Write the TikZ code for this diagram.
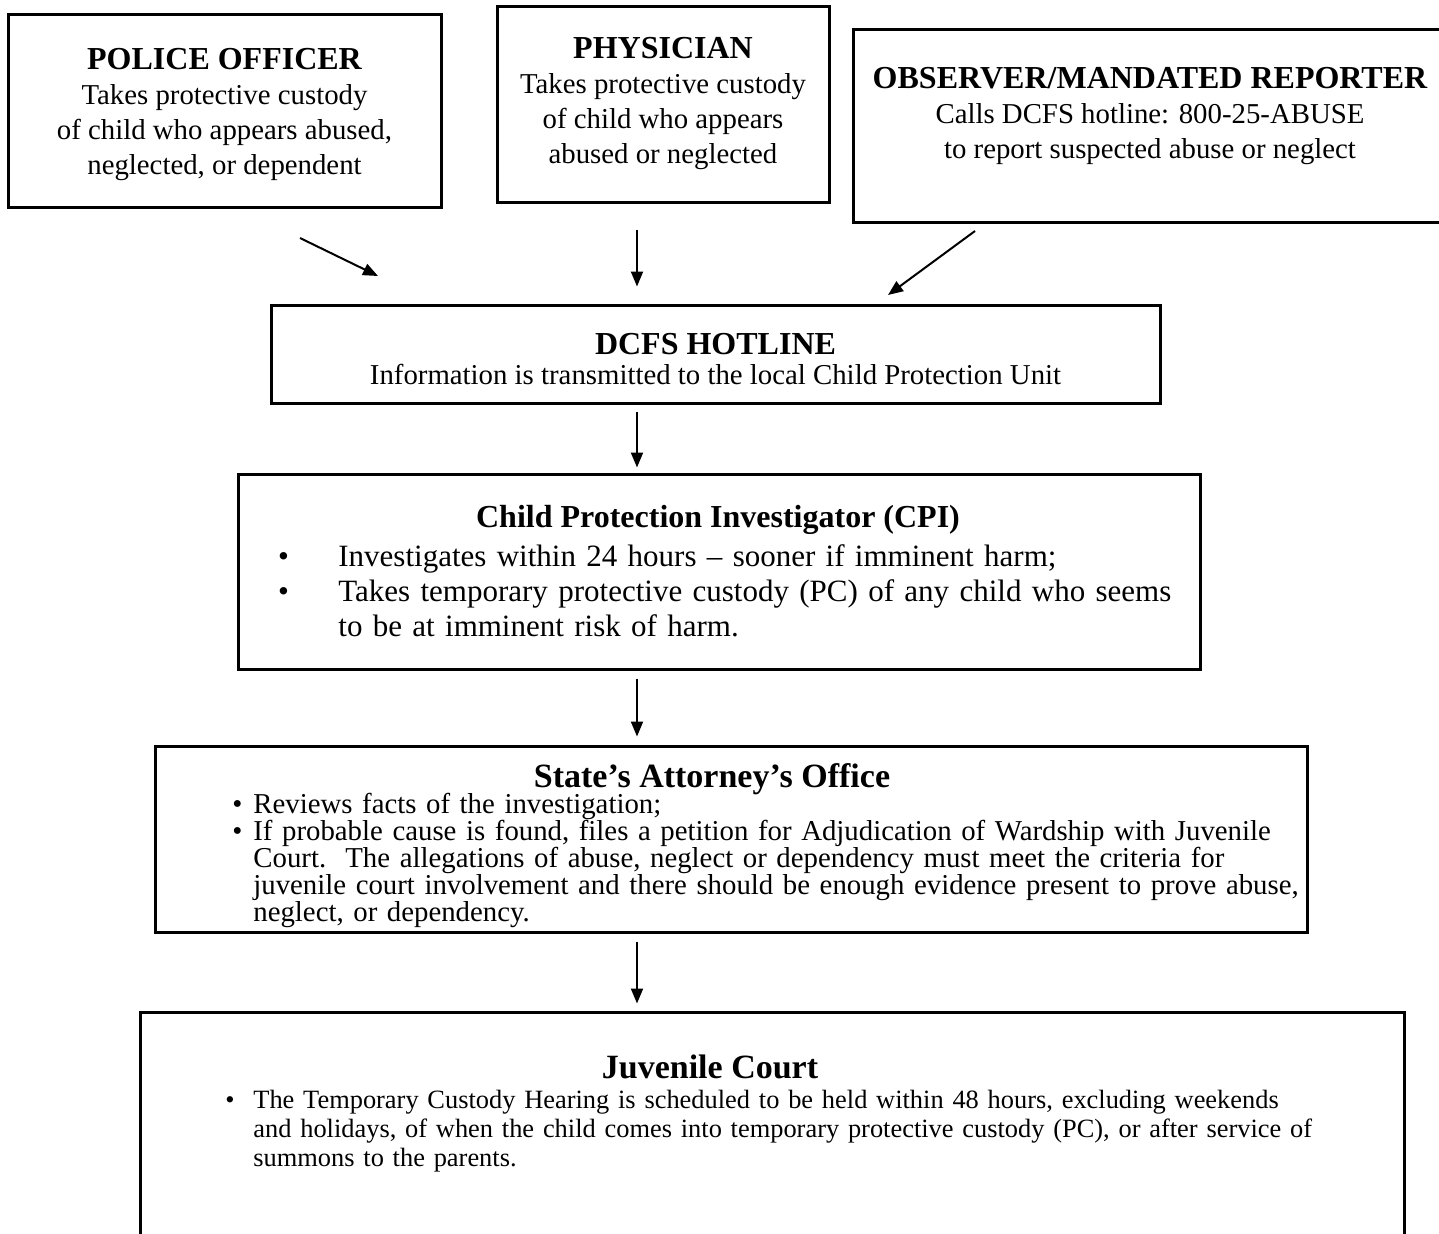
\documentclass[tikz,border=0pt]{standalone}
\usepackage{fontspec}
\setmainfont{Liberation Serif}
\usetikzlibrary{arrows.meta,positioning}

\newcommand{\bodyfont}{\fontsize{14.4}{17.5}\selectfont}
\newcommand{\titlefont}{\bfseries\fontsize{16}{17.5}\selectfont}
\newcommand{\bitem}[2]{\par\hangindent=#1\hangafter=1\noindent\makebox[#1][l]{\textbullet}#2\par}
\newcommand{\nl}{\hfil\break}

\tikzset{
  bigbox/.style={draw, rectangle, line width=1.5pt, inner sep=0pt},
  head/.style={inner sep=0pt, font=\titlefont},
  body/.style={inner sep=0pt, align=left},
  arr/.style={-{Triangle[length=7.5pt,width=6pt]}, line width=1pt},
}

\begin{document}
\begin{tikzpicture}[x=1pt, y=-1pt]
\useasboundingbox (0,0) rectangle (719.5,616.5);
\clip (0,0) rectangle (719.5,616.5);

% Reporters
\node[bigbox, minimum width=216.5pt, minimum height=96.5pt] (police) at (112.25,55.25) {};
\node[align=center, inner sep=0pt, font=\bodyfont] (policetext) at (112.25,57.5)
  {{\titlefont POLICE OFFICER}\\Takes protective custody\\of child who appears abused,\\neglected, or dependent};
\node[bigbox, minimum width=166pt, minimum height=98pt, align=center, font=\bodyfont] (physician) at (331.5,52)
  {{\titlefont PHYSICIAN}\\Takes protective custody\\of child who appears\\abused or neglected};
\node[bigbox, minimum width=297pt, minimum height=96.5pt] (observer) at (575,62.75) {};
\node[align=center, inner sep=0pt, font=\bodyfont] (observertext) at (575,58)
  {{\titlefont OBSERVER/MANDATED REPORTER}\\Calls DCFS hotline: 800-25-ABUSE\\to report suspected abuse or neglect};

% Hotline
\node[bigbox, minimum width=444.5pt, minimum height=49pt] (dcfs) at (357.75,177) {};
\node[align=center, inner sep=0pt, font=\fontsize{14.4}{15}\selectfont] (dcfstext) at (357.75,179.5)
  {{\bfseries\fontsize{16}{15}\selectfont DCFS HOTLINE}\\Information is transmitted to the local Child Protection Unit};

% Investigator
\node[bigbox, minimum width=481pt, minimum height=97.5pt] (cpi) at (359.5,285.75) {};
\node[head, anchor=base] (cpihead) at (359,263.5) {Child Protection Investigator (CPI)};
\node[body, anchor=north west, text width=470pt, font=\fontsize{15.5}{17.5}\selectfont] (cpibody) at (138.9,265.3)
  {\bitem{30.1pt}{Investigates within 24 hours -- sooner if imminent harm;}%
   \bitem{30.1pt}{Takes temporary protective custody (PC) of any child who seems\nl to be at imminent risk of harm.}};

% State's Attorney
\node[bigbox, minimum width=576pt, minimum height=93pt] (sao) at (365.5,419.5) {};
\node[head, anchor=base, font=\bfseries\fontsize{17}{17.5}\selectfont] (saohead) at (356,393.5) {State's Attorney's Office};
\node[body, anchor=north west, text width=570pt, font=\fontsize{14.4}{13.5}\selectfont] (saobody) at (116,393)
  {\bitem{10.5pt}{Reviews facts of the investigation;}%
   \bitem{10.5pt}{If probable cause is found, files a petition for Adjudication of Wardship with Juvenile\nl Court.\ \ The allegations of abuse, neglect or dependency must meet the criteria for\nl juvenile court involvement and there should be enough evidence present to prove abuse,\nl neglect, or dependency.}};

% Juvenile court
\node[bigbox, minimum width=632pt, minimum height=134pt] (court) at (386,573) {};
\node[head, anchor=base, font=\bfseries\fontsize{17}{17.5}\selectfont] (courthead) at (355,539) {Juvenile Court};
\node[body, anchor=north west, text width=600pt, font=\fontsize{13.2}{14.5}\selectfont] (courtbody) at (112.5,539.3)
  {\bitem{14pt}{The Temporary Custody Hearing is scheduled to be held within 48 hours, excluding weekends\nl and holidays, of when the child comes into temporary protective custody (PC), or after service of\nl summons to the parents.}};

% Arrows
\coordinate (spine) at (318.5,0);
\coordinate (polstart) at (150,119);
\coordinate (polend) at (189,138);
\coordinate (obsstart) at (487.5,115.5);
\coordinate (obsend) at (444,147.5);
\draw[arr] (polstart) -- (polend);
\draw[arr, shorten <=13pt, shorten >=8.5pt] (physician.south -| spine) -- (dcfs.north -| spine);
\draw[arr] (obsstart) -- (obsend);
\draw[arr, shorten <=3.5pt, shorten >=2.5pt] (dcfs.south -| spine) -- (cpi.north -| spine);
\draw[arr, shorten <=4pt, shorten >=4pt] (cpi.south -| spine) -- (sao.north -| spine);
\draw[arr, shorten <=4pt, shorten >=3.5pt] (sao.south -| spine) -- (court.north -| spine);
\end{tikzpicture}
\end{document}
